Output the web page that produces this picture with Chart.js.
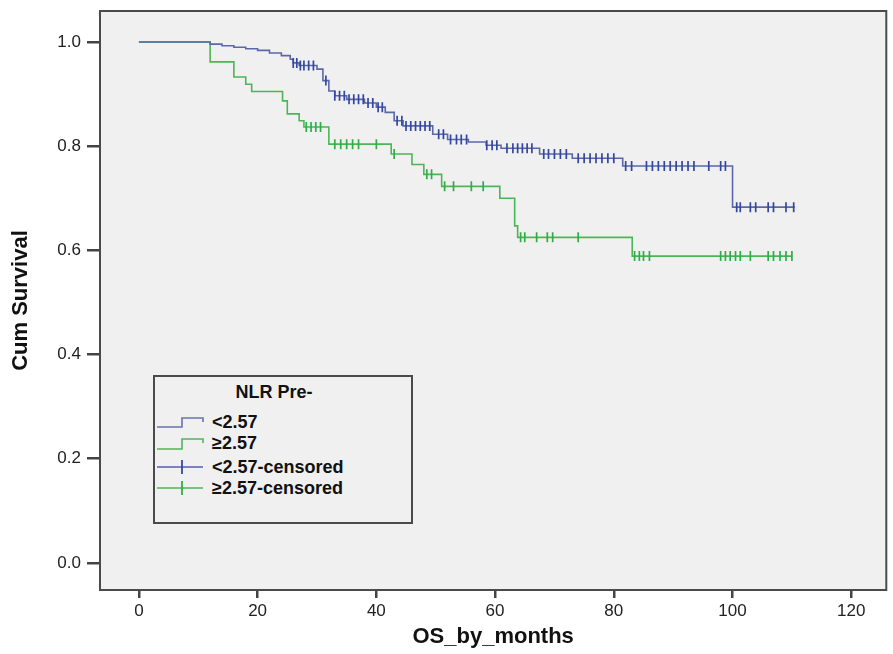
<!DOCTYPE html>
<html><head><meta charset="utf-8">
<script src="https://cdn.jsdelivr.net/npm/chart.js@4.4.0/dist/chart.umd.min.js"></script>
<style>
html,body{margin:0;padding:0;background:#fff;}
#wrap{position:relative;width:893px;height:654px;overflow:hidden;}
#c{position:absolute;left:0;top:0;}
#legend{position:absolute;left:153px;top:375px;width:256px;height:145px;border:2px solid #4a4a4a;background:#f0f0f0;font-family:"Liberation Sans",Arial,sans-serif;font-weight:bold;color:#111;font-size:18px;}
#legend .t{position:absolute;left:0;width:238px;text-align:center;top:4px;line-height:22px;}
#legend .r{position:absolute;left:57px;line-height:22px;white-space:nowrap;}
#legend svg{position:absolute;left:0;top:0;}
</style></head>
<body>
<div id="wrap">
<canvas id="c" width="893" height="654"></canvas>
<div id="legend">
  <svg width="60" height="140">
    <polyline points="2,50 27,50 27,41 48,41 48,45" fill="none" stroke="#6674b0" stroke-width="1.6"/>
    <polyline points="2,72 27,72 27,62 48,62 48,66" fill="none" stroke="#4fb757" stroke-width="1.6"/>
    <line x1="2" y1="90" x2="48" y2="90" stroke="#5060aa" stroke-width="1.4"/>
    <line x1="27" y1="83" x2="27" y2="97" stroke="#3347a0" stroke-width="1.8"/>
    <line x1="2" y1="111" x2="48" y2="111" stroke="#4fb757" stroke-width="1.4"/>
    <line x1="27" y1="104" x2="27" y2="118" stroke="#2fae45" stroke-width="1.8"/>
  </svg>
  <div class="t">NLR Pre-</div>
  <div class="r" style="top:34px">&lt;2.57</div>
  <div class="r" style="top:55px">≥2.57</div>
  <div class="r" style="top:79px">&lt;2.57-censored</div>
  <div class="r" style="top:100px">≥2.57-censored</div>
</div>
</div>
<script>
// ---- data (months, cumulative survival) ----
const xTicks = [0, 20, 40, 60, 80, 100, 120];
const yTicks = [0.0, 0.2, 0.4, 0.6, 0.8, 1.0];

const blueTimes = [0, 12, 14, 16, 18, 20, 22, 24, 25.5, 26, 27, 30, 31, 32, 33, 35, 38, 40, 41.5, 43, 44.5, 49.5, 52, 55.5, 58.5, 61, 67.5, 73, 81.5, 100, 110.5];
const blueSurv  = [1.0, 0.996, 0.993, 0.99, 0.987, 0.984, 0.979, 0.974, 0.967, 0.96, 0.955, 0.948, 0.926, 0.906, 0.897, 0.89, 0.883, 0.875, 0.865, 0.849, 0.839, 0.823, 0.813, 0.808, 0.802, 0.796, 0.785, 0.777, 0.762, 0.683, 0.683];
const blueCensored = [26, 26.6, 27.2, 27.8, 28.6, 29.4, 31.5, 33, 33.8, 34.6, 35.4, 36.2, 37, 37.8, 38.6, 39.4, 40.3, 41, 43.5, 44.3, 45, 45.8, 46.6, 47.4, 48.2, 49, 50.5, 51.3, 52.5, 53.5, 54.3, 55.2, 58.6, 59.5, 60.3, 62, 63, 63.8, 64.6, 65.4, 66.2, 68.2, 69, 70, 71, 72, 74, 75, 76, 77, 78, 79, 80, 82, 83, 85.5, 86.5, 87.5, 88.5, 89.5, 90.5, 91.5, 92.5, 93.5, 96, 98, 98.8, 100.7, 101.3, 103, 103.9, 106, 106.9, 109, 110.3];

const greenTimes = [0, 12, 16, 18, 19, 24.2, 25, 27, 27.8, 32, 42.5, 46, 48, 51, 60.8, 63.3, 63.8, 83.1, 110];
const greenSurv  = [1.0, 0.962, 0.933, 0.919, 0.905, 0.887, 0.862, 0.849, 0.837, 0.804, 0.785, 0.765, 0.746, 0.723, 0.70, 0.647, 0.625, 0.589, 0.589];
const greenCensored = [28.2, 29, 29.8, 30.6, 33, 34, 35, 36, 37, 40, 43, 48.5, 49.3, 51.5, 53, 56, 58, 64.3, 65, 67, 68.8, 69.7, 74, 83.5, 84.3, 85, 86, 98, 98.8, 99.6, 100.5, 101.3, 103, 106, 106.9, 108, 109, 110];

// survival at time t from a step curve
function survAt(times, surv, t){ let s = surv[0]; for(let i=0;i<times.length;i++){ if(times[i] <= t) s = surv[i]; } return s; }
const pts = (T,S) => T.map((t,i)=>({x:t, y:S[i]}));
const cens = (C,T,S) => C.map(t=>({x:t, y:survAt(T,S,t)}));

const plotFrame = {
  id:'plotFrame',
  beforeDatasetsDraw(chart){
    const {ctx, chartArea:a} = chart;
    ctx.save(); ctx.fillStyle = '#f0f0f0';
    ctx.fillRect(a.left, a.top, a.right-a.left, a.bottom-a.top); ctx.restore();
  },
  afterDraw(chart){
    const {ctx, chartArea:a} = chart;
    ctx.save(); ctx.strokeStyle = '#4a4a4a'; ctx.lineWidth = 2;
    ctx.strokeRect(a.left, a.top, a.right-a.left, a.bottom-a.top); ctx.restore();
  }
};

Chart.defaults.font.family = '"Liberation Sans", Arial, sans-serif';

new Chart(document.getElementById('c'), {
  type: 'scatter',
  data: { datasets: [
    { label:'<2.57', data: pts(blueTimes, blueSurv), showLine:true, stepped:'before', borderColor:'#5a68aa', borderWidth:1.6, pointRadius:0, order:2 },
    { label:'≥2.57', data: pts(greenTimes, greenSurv), showLine:true, stepped:'before', borderColor:'#4cb555', borderWidth:1.6, pointRadius:0, order:3 },
    { label:'<2.57-censored', data: cens(blueCensored, blueTimes, blueSurv), showLine:false, pointStyle:'line', rotation:90, pointRadius:5, borderColor:'#3347a0', borderWidth:1.7, order:0 },
    { label:'≥2.57-censored', data: cens(greenCensored, greenTimes, greenSurv), showLine:false, pointStyle:'line', rotation:90, pointRadius:5, borderColor:'#2fae45', borderWidth:1.7, order:1 }
  ]},
  options: {
    responsive:false, animation:false, devicePixelRatio:1,
    layout:{ padding:{ left:0, right:5, top:11, bottom:0 } },
    plugins:{ legend:{display:false}, tooltip:{enabled:false} },
    scales:{
      x:{ type:'linear', min:-6.55, max:125.9,
        afterBuildTicks: s => { s.ticks = xTicks.map(v=>({value:v})); },
        afterFit: s => { s.height = 64; s.paddingLeft = 0; s.paddingRight = 0; },
        ticks:{ font:{size:17}, color:'#222', padding:3, autoSkip:false, maxRotation:0 },
        grid:{ drawOnChartArea:false, drawTicks:true, tickLength:8, tickColor:'#444', lineWidth:2.5 },
        border:{ display:false },
        title:{ display:true, text:'OS_by_months', color:'#111', font:{size:22, weight:'bold'}, padding:{top:0, bottom:4} }
      },
      y:{ type:'linear', min:-0.052, max:1.0596,
        afterBuildTicks: s => { s.ticks = yTicks.map(v=>({value:v})); },
        afterFit: s => { s.width = 100; s.paddingTop = 0; s.paddingBottom = 0; },
        ticks:{ font:{size:17}, color:'#222', padding:6, callback: v => v.toFixed(1) },
        grid:{ drawOnChartArea:false, drawTicks:true, tickLength:13, tickColor:'#444', lineWidth:2.5 },
        border:{ display:false },
        title:{ display:true, text:'Cum Survival', color:'#111', font:{size:22, weight:'bold'}, padding:{top:8, bottom:0} }
      }
    }
  },
  plugins:[plotFrame]
});
</script>
</body></html>
